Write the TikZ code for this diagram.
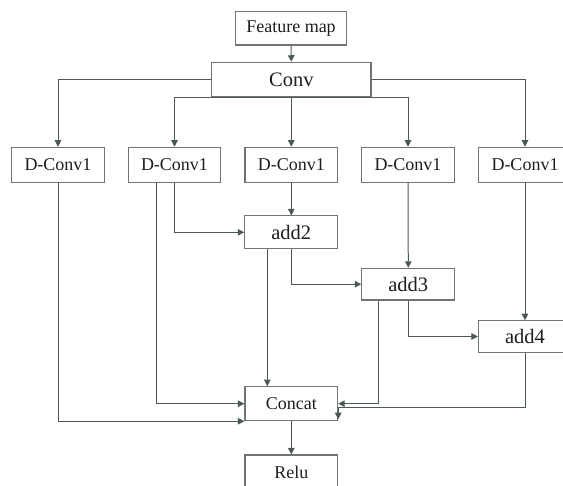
\documentclass[tikz,border=0pt]{standalone}
\usepackage{fontspec}
\setmainfont{Liberation Serif}
\usetikzlibrary{arrows.meta,positioning,calc}
\definecolor{boxc}{RGB}{112,116,116}
\definecolor{linec}{RGB}{76,88,88}
\definecolor{txtc}{RGB}{30,30,30}
\tikzset{
  blk/.style={draw=boxc,line width=1.1pt,fill=white,inner sep=0pt,minimum height=34pt,text=txtc,font=\fontsize{18}{20}\selectfont},
  dcv/.style={blk,minimum width=92.6pt,minimum height=35pt},
  addb/.style={blk,minimum width=93pt,minimum height=32pt,font=\fontsize{20.5}{22}\selectfont},
  conn/.style={draw=linec,line width=1pt},
  arr/.style={conn,-{Triangle[length=6.5pt,width=6.5pt]}}
}
\begin{document}
\begin{tikzpicture}[x=1pt,y=-1pt]
\clip (0,0) rectangle (563,486);
\fill[white] (0,0) rectangle (563,486);
\node[blk,minimum width=111pt,minimum height=33.5pt] (fm) at (291,28.3) {Feature map};
\node[blk,minimum width=159.3pt,minimum height=34.4pt,font=\fontsize{20.5}{22}\selectfont] (conv) at (291.3,79.5) {Conv};
\node[dcv] (d1) at (58,164.8) {D-Conv1};
\node[dcv] (d2) at (174.5,164.8) {D-Conv1};
\node[dcv] (d3) at (291.3,164.8) {D-Conv1};
\node[dcv] (d4) at (408,164.8) {D-Conv1};
\node[dcv] (d5) at (525,164.8) {D-Conv1};
\node[addb,minimum height=32.7pt] (add2) at (291.3,232.3) {add2};
\node[addb,minimum height=31.7pt] (add3) at (408.3,284.2) {add3};
\node[addb,minimum height=31.6pt] (add4) at (525,336.5) {add4};
\node[blk,minimum width=92.7pt,minimum height=34pt] (concat) at (291.3,403.7) {Concat};
\node[blk,minimum width=92.7pt,minimum height=35pt] (relu) at (291.3,472.5) {Relu};
% helper coordinates
\coordinate (c2) at ($(d2.south)+(-18.5pt,0)$);
\coordinate (a2l) at ($(add2.south)+(-24pt,0)$);
\coordinate (a3l) at ($(add3.south)+(-30pt,0)$);
\coordinate (cx4) at ($(concat.east)+(0,-4pt)$);
\coordinate (cse) at ($(concat.south east)+(0,2pt)$);
% connectors
\draw[arr] (fm.south) -- (conv.north);
\draw[arr] (conv.west) -| (d1.north);
\draw[arr] (conv.east) -| (d5.north);
\draw[conn] (d2.north |- conv.south) -- (d4.north |- conv.south);
\draw[arr] (d2.north |- conv.south) -- (d2.north);
\draw[arr] (d3.north |- conv.south) -- (d3.north);
\draw[arr] (d4.north |- conv.south) -- (d4.north);
\draw[arr] (d1.south) |- (concat.south west);
\draw[arr] (c2) |- (concat.west);
\draw[arr] (d2.south) |- (add2.west);
\draw[arr] (d3.south) -- (add2.north);
\draw[arr] (a2l) -- (a2l |- concat.north);
\draw[arr] (add2.south) |- (add3.west);
\draw[arr] (d4.south) -- (add3.north);
\draw[arr] (a3l) |- (concat.east);
\draw[arr] (add3.south) |- (add4.west);
\draw[arr] (d5.south) -- (add4.north);
\draw[arr] (add4.south) |- (cx4) -- (cse);
\draw[arr] (concat.south) -- (relu.north);
\end{tikzpicture}
\end{document}
